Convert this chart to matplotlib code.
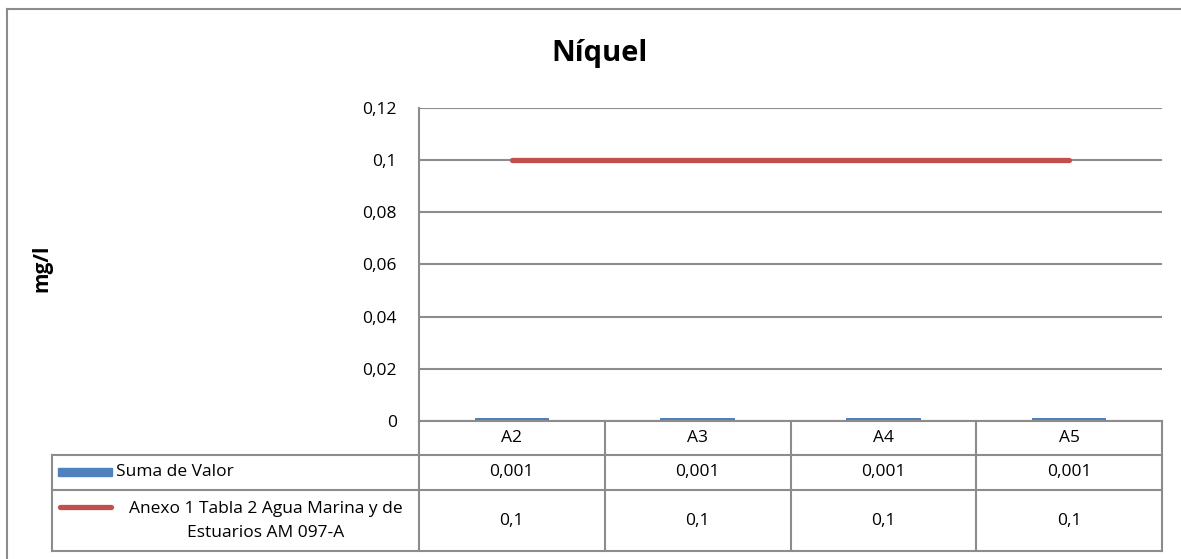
import numpy as np
import matplotlib
matplotlib.use("Agg")
from matplotlib import pyplot as plt
from matplotlib.lines import Line2D
from matplotlib.patches import Rectangle

plt.rcParams['font.family'] = ['Open Sans', 'DejaVu Sans']

TITULO = "Níquel"
EJE_Y = "mg/l"
categorias = ["A2", "A3", "A4", "A5"]
suma_valor = [0.001, 0.001, 0.001, 0.001]
limite = [0.1, 0.1, 0.1, 0.1]
nombre_barras = "Suma de Valor"
nombre_linea = "Anexo 1 Tabla 2 Agua Marina y de\nEstuarios AM 097-A"
ticks_y = [0, 0.02, 0.04, 0.06, 0.08, 0.1, 0.12]

AZUL = "#4F81BD"
ROJO = "#C0504D"
GRIS = "#8C8C8C"
W, H = 1181, 559
FS = 12.5


def fx(x):
    return x / W


def fy(y):
    return 1 - y / H


def coma(v):
    return ("%g" % v).replace(".", ",")


fig = plt.figure(figsize=(W / 100, H / 100), dpi=100)

# marco exterior
fig.add_artist(Line2D([fx(7), fx(W + 5)], [fy(9), fy(9)], color=GRIS, lw=1.5))
fig.add_artist(Line2D([fx(7), fx(7)], [fy(9), fy(H + 5)], color=GRIS, lw=1.5))

# area de grafico
x0, x1, ytop, ybot = 419, 1162, 107.7, 421
ax = fig.add_axes([fx(x0), fy(ybot), fx(x1 - x0), (ybot - ytop) / H])
pos = np.arange(len(categorias))
ax.bar(pos, suma_valor, width=0.4, color=AZUL, zorder=3)
ax.plot(pos, limite, color=ROJO, lw=3.8, solid_capstyle="round", zorder=4)
ax.set_xlim(-0.5, len(categorias) - 0.5)
ax.set_ylim(0, 0.12)
ax.set_yticks(ticks_y)
ax.set_yticklabels([coma(t) for t in ticks_y], fontsize=FS)
ax.tick_params(axis="y", length=0, pad=16)
ax.set_xticks([])
ax.grid(axis="y", color=GRIS, lw=1.5, zorder=0)
for s in ["top", "right", "bottom"]:
    ax.spines[s].set_visible(False)
ax.spines["left"].set_color(GRIS)
ax.spines["left"].set_linewidth(1.5)

fig.text(fx(600), fy(54), TITULO, fontsize=21, fontweight="bold",
         ha="center", va="center")
fig.text(fx(42), fy(268), EJE_Y, fontsize=15, fontweight="bold",
         rotation=90, ha="center", va="center")

# tabla de datos
bordes = np.linspace(x0, x1, len(categorias) + 1)
filas = [421, 455, 490, 551]
for i, y in enumerate(filas):
    xa = x0 if i == 0 else 52
    fig.add_artist(Line2D([fx(xa), fx(x1)], [fy(y), fy(y)], color=GRIS, lw=1.5))
fig.add_artist(Line2D([fx(52), fx(52)], [fy(455), fy(551)], color=GRIS, lw=1.5))
for b in bordes:
    fig.add_artist(Line2D([fx(b), fx(b)], [fy(421), fy(551)], color=GRIS, lw=1.5))

for i, c in enumerate(categorias):
    cx = (bordes[i] + bordes[i + 1]) / 2
    fig.text(fx(cx), fy(438), c, fontsize=FS, ha="center", va="center")
    fig.text(fx(cx), fy(472), coma(suma_valor[i]), fontsize=FS,
             ha="center", va="center")
    fig.text(fx(cx), fy(521), coma(limite[i]), fontsize=FS,
             ha="center", va="center")

# leyenda dentro de la tabla
fig.add_artist(Rectangle((fx(58), fy(476)), fx(54), 8 / H, color=AZUL))
fig.text(fx(116), fy(472), nombre_barras, fontsize=FS, ha="left", va="center")
fig.add_artist(Line2D([fx(60), fx(111)], [fy(507), fy(507)], color=ROJO,
                      lw=3.8, solid_capstyle="round"))
fig.text(fx(266), fy(521), nombre_linea, fontsize=FS, ha="center",
         va="center", multialignment="center", linespacing=1.6)

fig.savefig("out.png", dpi=100)
